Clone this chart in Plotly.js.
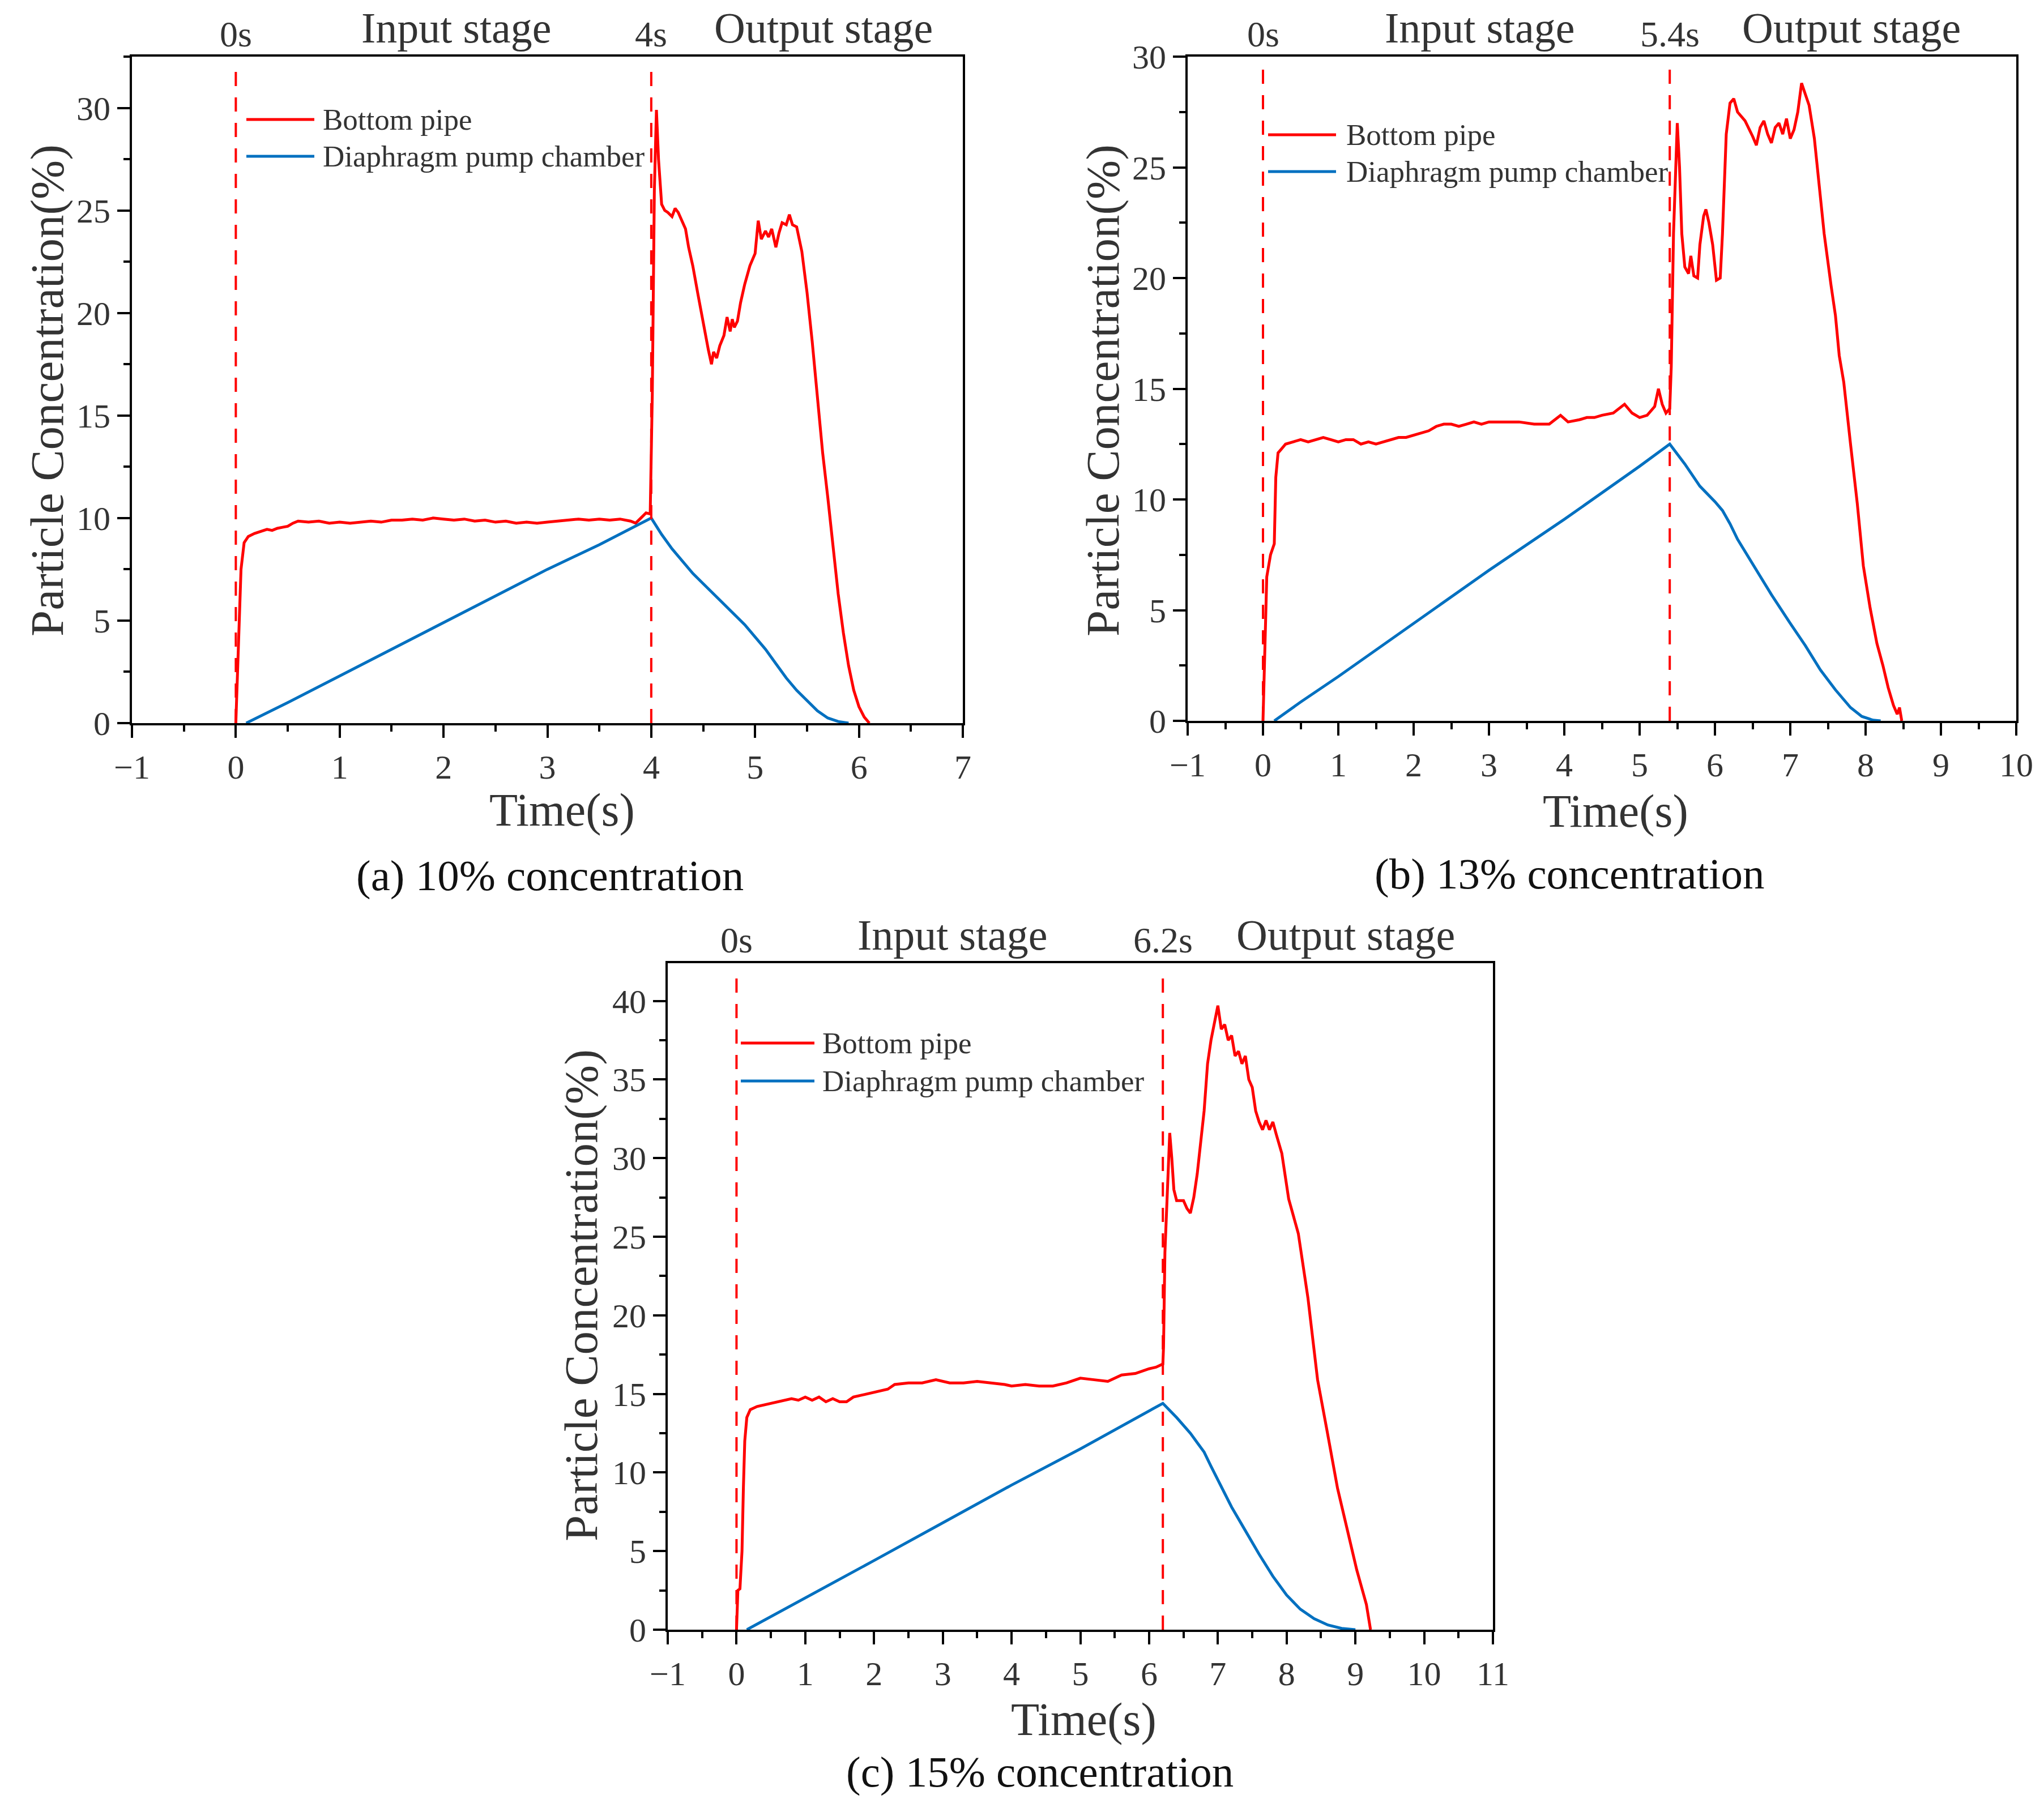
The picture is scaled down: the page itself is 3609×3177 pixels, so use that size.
<!DOCTYPE html>
<html>
<head>
<meta charset="utf-8">
<script src="https://cdn.plot.ly/plotly-3.0.1.min.js"></script>
<style>html,body{margin:0;padding:0;background:#fff}</style>
</head>
<body>
<div id="chart" style="width:3609px;height:3177px"></div>
<script>
  "use strict";

  // ---- data ----

  // (a) 10% concentration
  let tRedA = [0, 0.02, 0.05, 0.08, 0.12, 0.18, 0.25, 0.3, 0.35, 0.4, 0.45, 0.5, 0.55, 0.6, 0.7, 0.8, 0.9,
    1.0, 1.1, 1.2, 1.3, 1.4, 1.5, 1.6, 1.7, 1.8, 1.9, 2.0, 2.1, 2.2, 2.3, 2.4, 2.5, 2.6, 2.7, 2.8, 2.9,
    3.0, 3.1, 3.2, 3.3, 3.4, 3.5, 3.6, 3.7, 3.8, 3.85, 3.9, 3.95, 3.99, 4.01, 4.03, 4.05, 4.07, 4.1, 4.13,
    4.16, 4.2, 4.23, 4.26, 4.3, 4.33, 4.36, 4.4, 4.45, 4.5, 4.55, 4.58, 4.6, 4.63, 4.66, 4.7, 4.73, 4.76,
    4.78, 4.8, 4.83, 4.86, 4.9, 4.95, 5.0, 5.03, 5.06, 5.1, 5.13, 5.16, 5.2, 5.23, 5.26, 5.3, 5.33, 5.36,
    5.4, 5.45, 5.5, 5.55, 5.6, 5.65, 5.7, 5.75, 5.8, 5.85, 5.9, 5.95, 6.0, 6.05, 6.1];
  let cRedA = [0, 3, 7.5, 8.8, 9.1, 9.25, 9.35, 9.45, 9.4, 9.5, 9.55, 9.6, 9.75, 9.85, 9.8, 9.85, 9.75,
    9.8, 9.75, 9.8, 9.85, 9.8, 9.9, 9.9, 9.95, 9.9, 10.0, 9.95, 9.9, 9.95, 9.85, 9.9, 9.8, 9.85, 9.75, 9.8, 9.75,
    9.8, 9.85, 9.9, 9.95, 9.9, 9.95, 9.9, 9.95, 9.85, 9.75, 10.0, 10.25, 10.2, 16, 26, 29.9, 27.5, 25.3, 25.0,
    24.9, 24.7, 25.1, 24.9, 24.4, 24.1, 23.2, 22.3, 20.9, 19.5, 18.2, 17.5, 18.1, 17.8, 18.4, 18.9, 19.8, 19.1,
    19.7, 19.3, 19.6, 20.5, 21.4, 22.3, 22.9, 24.5, 23.6, 24.0, 23.7, 24.1, 23.2, 23.9, 24.4, 24.3, 24.8, 24.3,
    24.2, 23.0, 21.0, 18.6, 15.8, 13.2, 11.0, 8.7, 6.3, 4.4, 2.8, 1.6, 0.8, 0.3, 0];
  let tBlueA = [0.1, 0.5, 1.0, 1.5, 2.0, 2.5, 3.0, 3.5, 4.0, 4.1, 4.2, 4.3, 4.4, 4.5, 4.6, 4.7, 4.8, 4.9,
    5.0, 5.1, 5.2, 5.3, 5.4, 5.5, 5.6, 5.7, 5.8, 5.9];
  let cBlueA = [0, 1.0, 2.3, 3.6, 4.9, 6.2, 7.5, 8.7, 10.0, 9.2, 8.5, 7.9, 7.3, 6.8, 6.3, 5.8, 5.3, 4.8,
    4.2, 3.6, 2.9, 2.2, 1.6, 1.1, 0.6, 0.25, 0.08, 0];

  // (b) 13% concentration
  let tRedB = [0, 0.02, 0.05, 0.1, 0.15, 0.17, 0.2, 0.25, 0.3, 0.4, 0.5, 0.6, 0.7, 0.8, 0.9, 1.0, 1.1, 1.2,
    1.3, 1.4, 1.5, 1.6, 1.7, 1.8, 1.9, 2.0, 2.1, 2.2, 2.3, 2.4, 2.5, 2.6, 2.7, 2.8, 2.9, 3.0, 3.2, 3.4, 3.6,
    3.8, 3.95, 4.05, 4.2, 4.3, 4.4, 4.5, 4.65, 4.8, 4.9, 5.0, 5.1, 5.2, 5.25, 5.3, 5.35, 5.4, 5.42, 5.45,
    5.48, 5.5, 5.53, 5.56, 5.6, 5.65, 5.68, 5.72, 5.77, 5.8, 5.85, 5.88, 5.92, 5.97, 6.02, 6.07, 6.1, 6.15,
    6.2, 6.25, 6.3, 6.4, 6.5, 6.55, 6.6, 6.65, 6.7, 6.75, 6.8, 6.85, 6.9, 6.95, 7.0, 7.05, 7.1, 7.15, 7.2,
    7.25, 7.32, 7.37, 7.45, 7.54, 7.6, 7.65, 7.71, 7.8, 7.89, 7.97, 8.06, 8.15, 8.23, 8.3, 8.37, 8.42, 8.45,
    8.48];
  let cRedB = [0, 3, 6.5, 7.5, 8.0, 11.0, 12.1, 12.3, 12.5, 12.6, 12.7, 12.6, 12.7, 12.8, 12.7, 12.6, 12.7, 12.7,
    12.5, 12.6, 12.5, 12.6, 12.7, 12.8, 12.8, 12.9, 13.0, 13.1, 13.3, 13.4, 13.4, 13.3, 13.4, 13.5, 13.4, 13.5, 13.5, 13.5, 13.4,
    13.4, 13.8, 13.5, 13.6, 13.7, 13.7, 13.8, 13.9, 14.3, 13.9, 13.7, 13.8, 14.2, 15.0, 14.3, 13.9, 14.1, 16, 22,
    25, 27, 25, 22, 20.5, 20.2, 21, 20.1, 20.0, 21.5, 22.8, 23.1, 22.5, 21.5, 19.9, 20.0, 22, 26.5,
    27.9, 28.1, 27.5, 27.1, 26.4, 26.0, 26.8, 27.1, 26.5, 26.1, 26.8, 27.0, 26.5, 27.2, 26.3, 26.7, 27.5, 28.8, 28.3,
    27.8, 26.3, 24.6, 22.0, 19.7, 18.3, 16.5, 15.3, 12.5, 9.8, 7.0, 5.1, 3.5, 2.5, 1.5, 0.7, 0.3, 0.6,
    0];
  let tBlueB = [0.15, 0.5, 1.0, 2.0, 3.0, 4.0, 5.0, 5.4, 5.6, 5.8, 6.0, 6.1, 6.2, 6.3, 6.5, 6.75, 7.0,
    7.2, 7.4, 7.6, 7.8, 7.95, 8.1, 8.2];
  let cBlueB = [0, 0.85, 2.0, 4.4, 6.8, 9.1, 11.5, 12.5, 11.6, 10.6, 9.9, 9.5, 8.9, 8.2, 7.1, 5.7, 4.4,
    3.4, 2.3, 1.4, 0.6, 0.2, 0.03, 0];

  // (c) 15% concentration
  let tRedC = [0, 0.02, 0.05, 0.08, 0.1, 0.12, 0.15, 0.2, 0.3, 0.4, 0.5, 0.6, 0.7, 0.8, 0.9, 1.0, 1.1, 1.2,
    1.3, 1.4, 1.5, 1.6, 1.7, 1.8, 2.0, 2.2, 2.3, 2.5, 2.7, 2.9, 3.1, 3.3, 3.5, 3.7, 3.9, 4.0, 4.2, 4.4, 4.6,
    4.8, 5.0, 5.2, 5.4, 5.6, 5.8, 6.0, 6.1, 6.2, 6.21, 6.23, 6.27, 6.3, 6.33, 6.36, 6.4, 6.5, 6.55, 6.6,
    6.65, 6.7, 6.8, 6.85, 6.9, 6.95, 7.0, 7.05, 7.1, 7.15, 7.2, 7.25, 7.3, 7.35, 7.4, 7.45, 7.5, 7.55,
    7.6, 7.65, 7.7, 7.75, 7.8, 7.85, 7.93, 8.03, 8.17, 8.31, 8.45, 8.59, 8.74, 8.88, 9.02, 9.16, 9.22];
  let cRedC = [0, 2.5, 2.6, 5, 9, 12, 13.5, 14.0, 14.2, 14.3, 14.4, 14.5, 14.6, 14.7, 14.6, 14.8, 14.6, 14.8,
    14.5, 14.7, 14.5, 14.5, 14.8, 14.9, 15.1, 15.3, 15.6, 15.7, 15.7, 15.9, 15.7, 15.7, 15.8, 15.7, 15.6, 15.5, 15.6, 15.5, 15.5,
    15.7, 16.0, 15.9, 15.8, 16.2, 16.3, 16.6, 16.7, 16.9, 18, 24, 29, 31.6, 30, 28, 27.3, 27.3, 26.8, 26.5,
    27.5, 29, 33, 36, 37.5, 38.5, 39.7, 38.2, 38.5, 37.5, 37.8, 36.5, 36.8, 36.0, 36.5, 35.0, 34.5, 33.0,
    32.3, 31.8, 32.4, 31.8, 32.3, 31.5, 30.3, 27.4, 25.2, 21.1, 15.9, 12.6, 9.0, 6.4, 3.8, 1.6, 0];
  let tBlueC = [0.15, 1.0, 2.0, 3.0, 4.0, 5.0, 6.0, 6.2, 6.4, 6.6, 6.7, 6.8, 6.9, 7.0, 7.1, 7.2, 7.4,
    7.6, 7.8, 8.0, 8.2, 8.4, 8.6, 8.8, 9.0];
  let cBlueC = [0, 2.0, 4.4, 6.8, 9.2, 11.5, 13.9, 14.4, 13.5, 12.5, 11.9, 11.3, 10.4, 9.5, 8.7, 7.8, 6.3,
    4.8, 3.4, 2.2, 1.3, 0.7, 0.3, 0.08, 0];

  let switchTimes = [4, 5.4, 6.2];
  let switchLabels = ["4s", "5.4s", "6.2s"];
  let captions = ["(a) 10% concentration", "(b) 13% concentration", "(c) 15% concentration"];
  let seriesNames = ["Bottom pipe", "Diaphragm pump chamber"];

  // ---- page geometry (pixels of the 3609 x 3177 figure) ----
  const W = 3609, H = 3177;
  const FONT = "Liberation Serif, Times New Roman, serif";
  const TXT = "#333333";
  const RED = "#ff0000", BLUE = "#0070c0";

  let px = x => x / W;
  let py = y => 1 - y / H;

  // plot boxes: left, right, top, bottom ; x range ; y range
  let panels = [
    {box: [233, 1700, 100, 1277], xr: [-1, 7], yr: [0, 32.5],
      inputX: 806, outputX: 1454, topY: 49, markY: 60,
      leg: {x0: 435, x1: 555, tx: 568, y: [211, 276]},
      timeT: [993, 1430], yT: [83, 690], cap: [971, 1546]},
    {box: [2097, 3560, 100, 1273], xr: [-1, 10], yr: [0, 30],
      inputX: 2613, outputX: 3269, topY: 49, markY: 60,
      leg: {x0: 2239, x1: 2359, tx: 2375, y: [238, 303]},
      timeT: [2852, 1432], yT: [1947, 690], cap: [2771, 1543]},
    {box: [1179, 2636, 1701, 2878], xr: [-1, 11], yr: [0, 42.4],
      inputX: 1682, outputX: 2376, topY: 1651, markY: 1661,
      leg: {x0: 1308, x1: 1438, tx: 1450, y: [1842, 1909]},
      timeT: [1913, 3036], yT: [1026, 2288], cap: [1836, 3129]},
  ];

  function axisBase(range, domain, anchor, dtick, minorDtick, standoff) {
    return {
      range: range, domain: domain, anchor: anchor,
      showline: true, linecolor: "#000", linewidth: 4, mirror: true,
      ticks: "outside", ticklen: 22, tickwidth: 4, tickcolor: "#000",
      tick0: 0, dtick: dtick, showgrid: false, zeroline: false,
      ticklabelstandoff: standoff,
      tickfont: {family: FONT, size: 60, color: TXT},
      minor: {dtick: minorDtick, ticks: "outside", ticklen: 11, tickwidth: 4, tickcolor: "#000", showgrid: false},
      fixedrange: true,
    };
  }

  let reds = [[tRedA, cRedA], [tRedB, cRedB], [tRedC, cRedC]];
  let blues = [[tBlueA, cBlueA], [tBlueB, cBlueB], [tBlueC, cBlueC]];

  let traces = [], shapes = [], annotations = [];
  let layout = {
    width: W, height: H,
    margin: {l: 0, r: 0, t: 0, b: 0, pad: 0},
    paper_bgcolor: "#fff", plot_bgcolor: "#fff",
    showlegend: false,
    font: {family: FONT, color: TXT},
  };

  panels.forEach((p, i) => {
    let n = i === 0 ? "" : String(i + 1);
    let [l, r, t, b] = p.box;
    layout["xaxis" + n] = axisBase(p.xr, [px(l), px(r)], "y" + n, 1, 0.5, 0);
    layout["yaxis" + n] = axisBase(p.yr, [py(b), py(t)], "x" + n, 5, 2.5, 0);

    traces.push({x: reds[i][0], y: reds[i][1], xaxis: "x" + n, yaxis: "y" + n, type: "scatter", mode: "lines",
      name: seriesNames[0], line: {color: RED, width: 5}});
    traces.push({x: blues[i][0], y: blues[i][1], xaxis: "x" + n, yaxis: "y" + n, type: "scatter", mode: "lines",
      name: seriesNames[1], line: {color: BLUE, width: 5}});

    // stage boundaries
    [0, switchTimes[i]].forEach(tx => {
      shapes.push({type: "line", xref: "x" + n, yref: "y" + n + " domain", x0: tx, x1: tx, y0: 0, y1: 0.99,
        line: {color: RED, width: 4, dash: "25px,20px"}, layer: "above"});
    });

    // hand-drawn legend
    [RED, BLUE].forEach((c, k) => {
      shapes.push({type: "line", xref: "paper", yref: "paper", x0: px(p.leg.x0), x1: px(p.leg.x1),
        y0: py(p.leg.y[k]), y1: py(p.leg.y[k]), line: {color: c, width: 5}});
      annotations.push({text: seriesNames[k], xref: "paper", yref: "paper", x: px(p.leg.tx), y: py(p.leg.y[k]),
        xanchor: "left", yanchor: "middle", showarrow: false, font: {family: FONT, size: 53, color: TXT}});
    });

    // labels above the box
    annotations.push({text: "0s", xref: "x" + n, yref: "paper", x: 0, y: py(p.markY),
      xanchor: "center", yanchor: "middle", showarrow: false, font: {family: FONT, size: 64, color: TXT}});
    annotations.push({text: switchLabels[i], xref: "x" + n, yref: "paper", x: switchTimes[i], y: py(p.markY),
      xanchor: "center", yanchor: "middle", showarrow: false, font: {family: FONT, size: 64, color: TXT}});
    annotations.push({text: "Input stage", xref: "paper", yref: "paper", x: px(p.inputX), y: py(p.topY),
      xanchor: "center", yanchor: "middle", showarrow: false, font: {family: FONT, size: 76, color: TXT}});
    annotations.push({text: "Output stage", xref: "paper", yref: "paper", x: px(p.outputX), y: py(p.topY),
      xanchor: "center", yanchor: "middle", showarrow: false, font: {family: FONT, size: 76, color: TXT}});

    // axis titles and caption
    annotations.push({text: "Time(s)", xref: "paper", yref: "paper", x: px(p.timeT[0]), y: py(p.timeT[1]),
      xanchor: "center", yanchor: "middle", showarrow: false, font: {family: FONT, size: 82, color: TXT}});
    annotations.push({text: "Particle Concentration(%)", xref: "paper", yref: "paper", x: px(p.yT[0]), y: py(p.yT[1]),
      xanchor: "center", yanchor: "middle", textangle: -90, showarrow: false, font: {family: FONT, size: 83, color: TXT}});
    annotations.push({text: captions[i], xref: "paper", yref: "paper", x: px(p.cap[0]), y: py(p.cap[1]),
      xanchor: "center", yanchor: "middle", showarrow: false, font: {family: FONT, size: 77, color: "#111"}});
  });

  layout.shapes = shapes;
  layout.annotations = annotations;

  Plotly.newPlot("chart", traces, layout, {displayModeBar: false, staticPlot: true});
</script>
</body>
</html>
